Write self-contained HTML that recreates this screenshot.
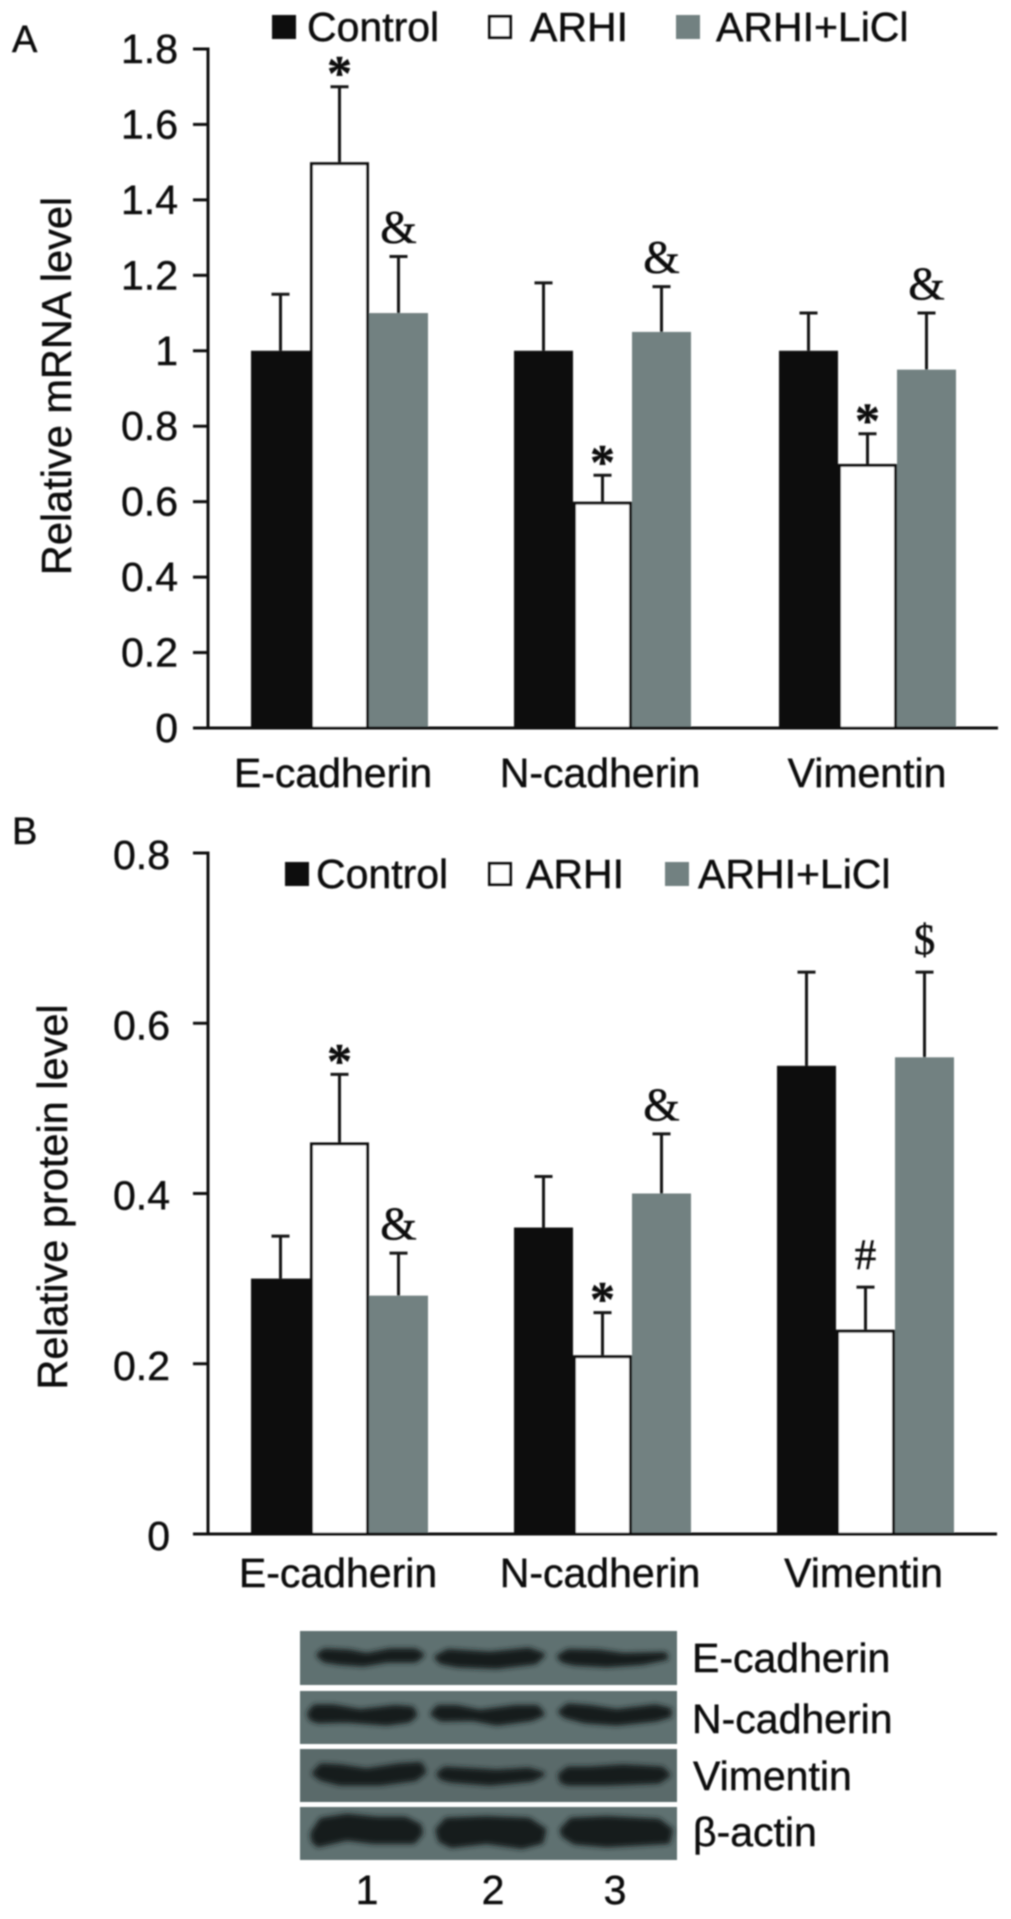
<!DOCTYPE html>
<html lang="en">
<head>
<meta charset="utf-8">
<title>Relative mRNA and protein levels</title>
<style>
html,body{margin:0;padding:0;background:#fff;width:1011px;height:1919px;overflow:hidden}
svg{display:block;position:absolute;left:0;top:0}
text{font-family:"Liberation Sans",sans-serif;fill:#111;stroke:#111;stroke-width:0.45px}
.mark{font-family:"Liberation Serif",serif}
</style>
</head>
<body>
<svg id="figure" xmlns="http://www.w3.org/2000/svg" width="1011" height="1919" viewBox="0 0 1011 1919">
<defs>
<filter id="soft" x="-5%" y="-5%" width="110%" height="110%"><feGaussianBlur stdDeviation="0.7"/></filter>
<filter id="bandBlur" x="-10%" y="-50%" width="120%" height="200%"><feGaussianBlur stdDeviation="8"/></filter>
</defs>
<g id="charts" filter="url(#soft)"></g>
<g id="western-blot">
  <g filter="url(#soft)">
    <rect x="300" y="1631" width="377" height="54" fill="#5f7171"/>
    <rect x="300" y="1691" width="377" height="53" fill="#5f7171"/>
    <rect x="300" y="1749" width="377" height="53" fill="#5a6b6b"/>
    <rect x="300" y="1807" width="377" height="53" fill="#5f7171"/>
  </g>
  <g transform="translate(290,1620) scale(0.33333)">
    <g filter="url(#bandBlur)" fill="#141b1c" stroke="#141b1c" stroke-width="14" stroke-linejoin="round">
      <polygon points="86,105 104,92 180,96 230,106 300,92 376,92 396,105 376,121 290,121 220,133 150,128 104,121"/>
      <polygon points="440,112 474,94 600,102 716,90 758,105 736,126 620,140 500,135 454,126"/>
      <polygon points="808,110 834,94 930,96 1000,106 1124,103 1128,113 1056,128 950,135 854,130 820,122"/>
      <polygon points="58,280 74,260 130,260 210,274 316,262 366,266 375,285 356,301 290,310 170,301 84,303 64,296"/>
      <polygon points="428,282 444,262 500,262 570,276 676,262 741,262 757,282 726,296 620,310 550,296 454,298"/>
      <polygon points="811,275 834,257 900,262 980,274 1096,260 1138,270 1138,286 1096,298 980,310 884,303 826,288"/>
      <polygon points="73,460 94,437 150,440 230,452 326,437 391,433 402,455 376,476 270,490 150,490 94,476"/>
      <polygon points="446,462 464,447 560,452 620,456 716,450 757,462 726,478 600,490 484,481 456,474"/>
      <polygon points="811,465 834,447 900,447 1000,440 1116,447 1134,465 1106,484 950,490 834,490 816,484"/>
      <polygon points="68,640 94,600 170,588 260,597 346,597 388,618 392,640 371,665 250,665 170,655 84,675 70,661"/>
      <polygon points="443,630 469,600 590,595 716,600 762,630 754,665 696,680 590,665 484,677 451,661"/>
      <polygon points="816,630 844,600 950,595 1106,603 1142,630 1134,665 1046,670 950,675 854,667 821,646"/>
    </g>
  </g>
  <g filter="url(#soft)">
    <text x="692" y="1672" font-size="41">E-cadherin</text>
    <text x="692" y="1733" font-size="41">N-cadherin</text>
    <text x="693" y="1790" font-size="41">Vimentin</text>
    <text x="693" y="1846" font-size="41">β-actin</text>
    <text x="367" y="1904" font-size="41" text-anchor="middle">1</text>
    <text x="493" y="1904" font-size="41" text-anchor="middle">2</text>
    <text x="615" y="1904" font-size="41" text-anchor="middle">3</text>
  </g>
</g>
</svg>
<script>
const categories = ["E-cadherin", "N-cadherin", "Vimentin"];
const seriesNames = ["Control", "ARHI", "ARHI+LiCl"];

const mrnaControl = [1, 1, 1];
const mrnaArhi = [1.5, 0.6, 0.7];
const mrnaLicl = [1.1, 1.05, 0.95];
const mrnaControlErr = [0.15, 0.18, 0.1];
const mrnaArhiErr = [0.2, 0.07, 0.08];
const mrnaLiclErr = [0.15, 0.12, 0.15];
const mrnaTicks = ["0", "0.2", "0.4", "0.6", "0.8", "1", "1.2", "1.4", "1.6", "1.8"];
const mrnaMarksArhi = ["*", "*", "*"];
const mrnaMarksLicl = ["&", "&", "&"];

const proteinControl = [0.3, 0.36, 0.55];
const proteinArhi = [0.46, 0.21, 0.24];
const proteinLicl = [0.28, 0.4, 0.56];
const proteinControlErr = [0.05, 0.06, 0.11];
const proteinArhiErr = [0.08, 0.05, 0.05];
const proteinLiclErr = [0.05, 0.07, 0.1];
const proteinTicks = ["0", "0.2", "0.4", "0.6", "0.8"];
const proteinMarksArhi = ["*", "*", "#"];
const proteinMarksLicl = ["&", "&", "$"];

const NS = "http://www.w3.org/2000/svg";
const seriesFill = ["#080808", "#ffffff", "#728181"];
const seriesSlug = ["control", "arhi", "arhi-licl"];
const root = document.getElementById("charts");

function el(tag, attrs, parent, text) {
  const node = document.createElementNS(NS, tag);
  for (const key in attrs) node.setAttribute(key, attrs[key]);
  if (text !== undefined) node.textContent = text;
  parent.appendChild(node);
  return node;
}

function drawPanel(p) {
  const g = el("g", {}, root);
  
  

  const maxValue = parseFloat(p.ticks[p.ticks.length - 1]);
  const y = v => p.zeroY - (v / maxValue) * (p.zeroY - p.topY);
  const barX = (c, s) => p.groupX[c] + s * p.barW;

  const letter = el("text", {x: 12, y: p.letterY, "font-size": 38}, g, p.letter);
  
  

  const title = el("text", {
    x: 0, y: 0, "font-size": 41.5, "text-anchor": "middle",
    transform: "translate(" + p.titleX + "," + p.titleY + ") rotate(-90)"
  }, g, p.title);
  
  

  p.ticks.forEach(t => {
    const v = parseFloat(t);
    const tick = el("line", {x1: 193, x2: 208, y1: y(v), y2: y(v), stroke: "#111", "stroke-width": 3}, g);
    
    
    const label = el("text", {x: p.tickRight, y: y(v) + p.tickDy, "font-size": 41, "text-anchor": "end"}, g, t);
    
    
  });

  p.series.forEach((vals, s) => {
    vals.forEach((v, c) => {
      const x = barX(c, s);
      const w = p.barW;
      const cx = x + w / 2;
      const top = y(v + p.errors[s][c]);

      const stem = el("line", {x1: cx, x2: cx, y1: y(v), y2: top, stroke: "#161616", "stroke-width": 3}, g);
      
      
      const cap = el("line", {x1: cx - 9, x2: cx + 9, y1: top, y2: top, stroke: "#161616", "stroke-width": 3}, g);
      
      

      const bar = el("rect", {
        x: s === 1 ? x + 1.5 : x, y: s === 1 ? y(v) + 1.5 : y(v),
        width: s === 1 ? w - 3 : w, height: s === 1 ? p.zeroY - y(v) - 1.5 : p.zeroY - y(v),
        fill: seriesFill[s]
      }, g);
      if (s === 1) {
        bar.setAttribute("stroke", "#111");
        bar.setAttribute("stroke-width", 3);
      }
      
      

      const marks = s === 1 ? p.marksArhi : s === 2 ? p.marksLicl : null;
      if (marks) {
        const ch = marks[c];
        const isStar = ch === "*";
        const isAmp = ch === "&";
        const mark = el("text", {
          class: "mark", x: cx, "text-anchor": "middle",
          y: top + (isStar ? 3 : isAmp ? -14 : -18),
          "font-size": isStar ? 50 : isAmp ? 47 : 43,
          "font-weight": isStar ? "bold" : "normal"
        }, g, ch);
        
        
      }
    });
  });

  const yAxis = el("line", {x1: 208, x2: 208, y1: p.topY - 1.5, y2: p.zeroY, stroke: "#111", "stroke-width": 3}, g);
  
  
  const xAxis = el("line", {x1: 193, x2: p.axisRight, y1: p.zeroY, y2: p.zeroY, stroke: "#111", "stroke-width": 3}, g);
  
  

  categories.forEach((name, c) => {
    const label = el("text", {x: p.catX[c], y: p.catY, "font-size": 41, "text-anchor": "middle"}, g, name);
    
    
  });

  seriesNames.forEach((name, s) => {
    const swatch = el("rect", {
      x: s === 1 ? p.legendBox[s] + 1.5 : p.legendBox[s],
      y: s === 1 ? p.legendY + 1.5 : p.legendY,
      width: s === 1 ? 21 : 24, height: s === 1 ? 21 : 24, fill: seriesFill[s]
    }, g);
    if (s === 1) {
      swatch.setAttribute("stroke", "#111");
      swatch.setAttribute("stroke-width", 3);
    }
    
    
    const label = el("text", {x: p.legendText[s], y: p.legendY + 26, "font-size": 41}, g, name);
    
    
  });
}

drawPanel({
  slug: "mrna", letter: "A", letterY: 52, title: "Relative mRNA level", titleX: 71, titleY: 386,
  ticks: mrnaTicks, topY: 49, zeroY: 728, tickRight: 178, tickDy: 14, axisRight: 998,
  series: [mrnaControl, mrnaArhi, mrnaLicl],
  errors: [mrnaControlErr, mrnaArhiErr, mrnaLiclErr],
  marksArhi: mrnaMarksArhi, marksLicl: mrnaMarksLicl,
  groupX: [251, 514, 779], barW: 59,
  catX: [333, 600, 867], catY: 787,
  legendY: 15, legendBox: [272, 488, 676], legendText: [307, 530, 716]
});

drawPanel({
  slug: "protein", letter: "B", letterY: 844, title: "Relative protein level", titleX: 67, titleY: 1197,
  ticks: proteinTicks, topY: 853, zeroY: 1534, tickRight: 170, tickDy: 16, axisRight: 997,
  series: [proteinControl, proteinArhi, proteinLicl],
  errors: [proteinControlErr, proteinArhiErr, proteinLiclErr],
  marksArhi: proteinMarksArhi, marksLicl: proteinMarksLicl,
  groupX: [251, 514, 777], barW: 59,
  catX: [338, 600, 863.5], catY: 1587,
  legendY: 862, legendBox: [285, 488, 665], legendText: [316, 526, 698]
});
</script>
</body>
</html>
